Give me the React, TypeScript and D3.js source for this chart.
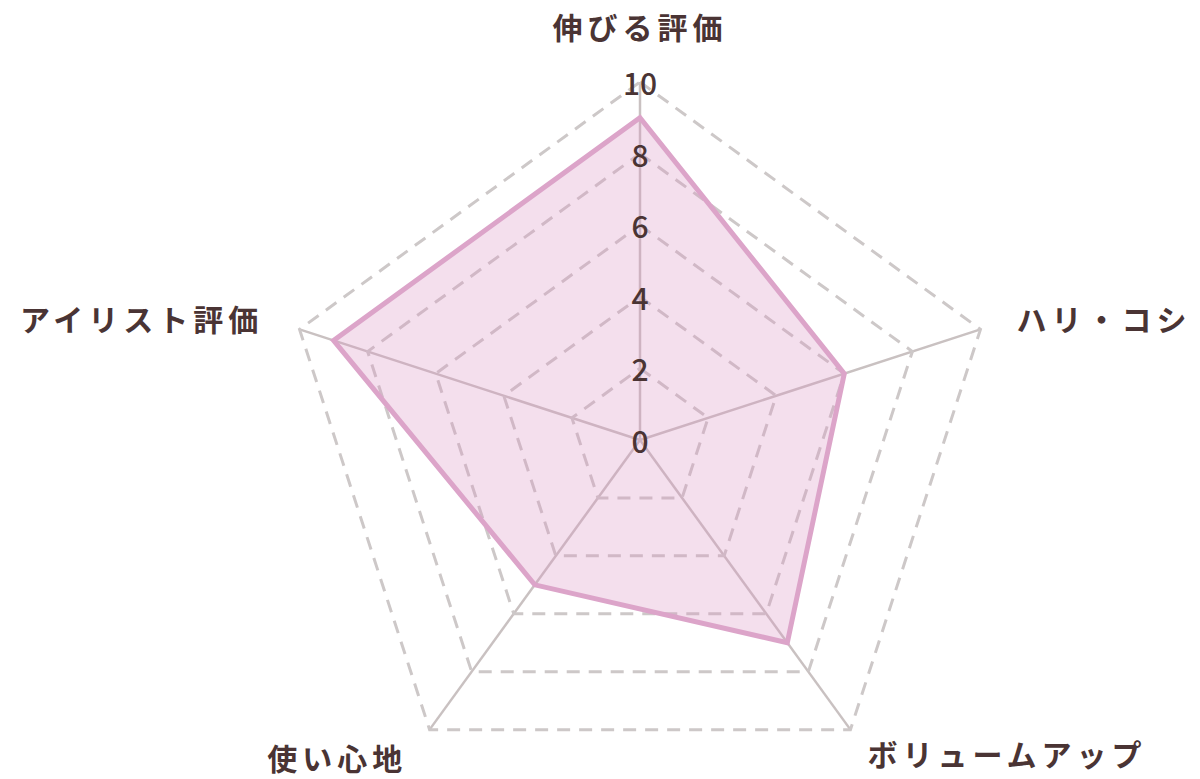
import React from "react";
import * as d3 from "d3";

const categories = ["伸びる評価", "ハリ・コシ", "ボリュームアップ", "使い心地", "アイリスト評価"];
const values = [9, 6, 7, 5, 9];
const tickValues = [0, 2, 4, 6, 8, 10];
const gridLevels = [2, 4, 6, 8, 10];

const W = 1200;
const H = 779;
const CX = 640;
const CY = 440;
const R = 358;
const MAX = 10;

export default function App() {
  const n = categories.length;
  const angle = d3
    .scaleLinear()
    .domain([0, n])
    .range([0, 2 * Math.PI]);
  const radius = d3.scaleLinear().domain([0, MAX]).range([0, R]);

  const pt = (i: number, v: number): [number, number] => {
    const a = angle(i) - Math.PI / 2;
    const r = radius(v);
    return [CX + r * Math.cos(a), CY + r * Math.sin(a)];
  };

  const closedLine = d3
    .line<[number, number]>()
    .x((d) => d[0])
    .y((d) => d[1])
    .curve(d3.curveLinearClosed);

  const textColor = "#4a3434";

  return (
    <svg
      width={W}
      height={H}
      style={{ position: "absolute", left: 0, top: 0, background: "#fff" }}
    >
      {/* axis lines */}
      {categories.map((c, i) => {
        const [x, y] = pt(i, MAX);
        return (
          <line
            key={"ax" + i}
            x1={CX}
            y1={CY}
            x2={x}
            y2={y}
            stroke="#c9c1c1"
            strokeWidth={2.5}
          />
        );
      })}
      {/* grid pentagons */}
      {gridLevels.map((lv) => (
        <path
          key={"g" + lv}
          d={closedLine(categories.map((_, i) => pt(i, lv))) || ""}
          fill="none"
          stroke="#cdc8c8"
          strokeWidth={3}
          strokeDasharray="13 9"
        />
      ))}
      {/* data area */}
      <path
        d={closedLine(values.map((v, i) => pt(i, v))) || ""}
        fill="rgba(220,150,195,0.3)"
        stroke="#dca4c9"
        strokeWidth={5}
        strokeLinejoin="miter"
      />
      {/* tick labels */}
      {tickValues.map((t) => (
        <text
          key={"t" + t}
          x={CX}
          y={CY - radius(t)}
          textAnchor="middle"
          dominantBaseline="central"
          fontFamily="'Noto Sans CJK JP', 'Noto Sans', sans-serif"
          fontSize={30}
          fontWeight={500}
          fill={textColor}
        >
          {t}
        </text>
      ))}
      {/* category labels */}
      {categories.map((c, i) => {
        const a = angle(i) - Math.PI / 2;
        const lr = i === 0 ? 414 : i === 2 ? 387 : 396;
        const x = CX + lr * Math.cos(a);
        const y = CY + lr * Math.sin(a) + (i === 3 ? -3 : 0);
        const cos = Math.cos(a);
        const anchor = Math.abs(cos) < 0.01 ? "middle" : cos > 0 ? "start" : "end";
        return (
          <text
            key={"c" + i}
            x={x}
            y={y}
            textAnchor={anchor}
            dominantBaseline="central"
            fontFamily="'Noto Sans CJK JP', sans-serif"
            fontSize={30}
            fontWeight={700}
            letterSpacing={5}
            fill={textColor}
          >
            {c}
          </text>
        );
      })}
    </svg>
  );
}
